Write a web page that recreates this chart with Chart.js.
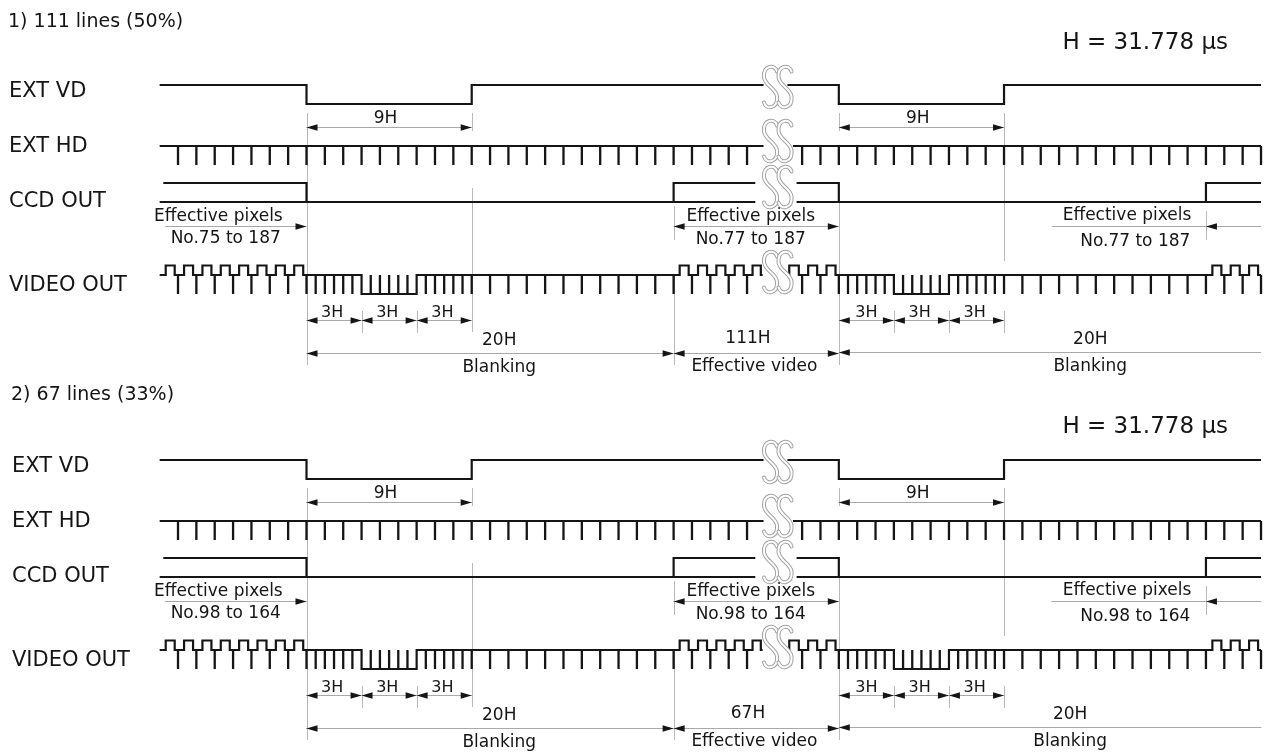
<!DOCTYPE html>
<html><head><meta charset="utf-8">
<script src="https://cdn.jsdelivr.net/npm/chart.js@4.4.1/dist/chart.umd.min.js"></script>
<style>html,body{margin:0;padding:0;background:#fff;overflow:hidden}#wrap{width:1271px;height:755px}canvas{display:block}</style>
</head><body><div id="wrap"><canvas id="c" width="1271" height="755"></canvas></div>
<script>
// ================= DATA (time in H units, logic levels) =================
const sectionTitles = ['1) 111 lines (50%)', '2) 67 lines (33%)'];
const signalNames = ['EXT VD', 'EXT HD', 'CCD OUT', 'VIDEO OUT'];
const lineTimeLabel = 'H = 31.778 \u00B5s';
const effectiveLineCounts = ['111H', '67H'];
const pixelRanges = [
  ['No.75 to 187', 'No.77 to 187', 'No.77 to 187'],
  ['No.98 to 164', 'No.98 to 164', 'No.98 to 164']
];
const vdWidthLabel = '9H';
const eqWidthLabel = '3H';
const blankingLabel = '20H';
const timeSpan = [-8, 52];

// EXT VD: [time, level] (null = line interrupted)
const vdSteps = [[-8, 1], [0, 0], [9, 1], [24.9, null], [26.2, 1], [29, 0], [38, 1], [52, null]];
// EXT HD baseline and sync ticks
const hdSteps = [[-8, 1], [24.9, null], [26.5, 1], [52, null]];
const hdTicks = [-7, -6, -5, -4, -3, -2, -1, 0, 1, 2, 3, 4, 5, 6, 7, 8, 9, 10, 11, 12, 13, 14, 15, 16,
  17, 18, 19, 20, 21, 22, 23, 24, 27, 28, 29, 30, 31, 32, 33, 34, 35, 36, 37, 38, 39, 40, 41, 42, 43,
  44, 45, 46, 47, 48, 49, 50, 51, 52];
// CCD OUT: upper (effective) line and lower line
const ccdHighSteps = [[-7.8, 1], [0, 0], [0, null], [20, 0], [20, 1], [24.45, null], [26.7, 1], [29, 0], [29, null],
  [49, 0], [49, 1], [52, null]];
const ccdLowSteps = [[-8, 0], [24.45, null], [26.7, 0], [52, null]];
// VIDEO OUT: video bumps [start, end], vertical sync [start, end], break, sync / equalising ticks
const videoBumps = [[-7.67, -7.18], [-6.67, -6.18], [-5.67, -5.18], [-4.67, -4.18], [-3.67, -3.18], [-2.67, -2.18],
  [-1.67, -1.18], [-0.67, -0.18], [20.33, 20.82], [21.33, 21.82], [22.33, 22.82], [23.33, 23.82], [24.3, 24.75],
  [26.3, 26.82], [27.33, 27.82], [28.33, 28.82], [49.35, 49.84], [50.35, 50.84], [51.35, 51.84]];
const videoVsync = [[3, 6], [32, 35]];
const videoBreak = [24.85, 26.25];
const videoSyncTicks = [-7, -6, -5, -4, -3, -2, -1, 0,
  0.5, 1, 1.5, 2, 2.5, 3.5, 4, 4.5, 5, 5.5, 6.5, 7, 7.5, 8, 8.5, 9,
  10, 11, 12, 13, 14, 15, 16, 17, 18, 19, 20, 21, 22, 23, 24, 27, 28, 29,
  29.5, 30, 30.5, 31, 31.5, 32.5, 33, 33.5, 34, 34.5, 35.5, 36, 36.5, 37, 37.5, 38,
  39, 40, 41, 42, 43, 44, 45, 46, 47, 48, 49, 50, 51, 52];

// ================= LAYOUT =================
const LAY = {
  originPx: 306.5, hPx: 18.356, W: 1271, H: 755,
  secOff: [0, 375],
  rows: { vd: { base: 104, amp: 19 }, hd: { base: 165, amp: 19 }, ccd: { base: 202, amp: 19 }, video: { base: 275, amp: 9.5 } },
  font: '"DejaVu Sans", sans-serif',
  ink: '#151515', dimGray: '#a9a9a9', extGray: '#b8b8b8'
};
const xMin = -LAY.originPx / LAY.hPx;
const xMax = (LAY.W - LAY.originPx) / LAY.hPx;
function yOf(sec, row, lv) { const r = LAY.rows[row]; return r.base + LAY.secOff[sec] - lv * r.amp; }

function buildSteps(steps, row, sec) {
  const pts = []; let prev = null;
  for (const [t, lv] of steps) {
    if (prev !== null) pts.push({ x: t, y: yOf(sec, row, prev) });
    pts.push({ x: t, y: lv === null ? null : yOf(sec, row, lv) });
    prev = lv;
  }
  return pts;
}
function buildTicks(ticks, row, sec, a, b) {
  const pts = [];
  ticks.forEach(t => { pts.push({ x: t, y: yOf(sec, row, a) }, { x: t, y: yOf(sec, row, b) }, { x: t, y: null }); });
  return pts;
}
function videoStepList() {
  const ev = [[timeSpan[0], 0]];
  videoBumps.forEach(([a, b]) => ev.push([a, 1], [b, 0]));
  videoVsync.forEach(([a, b]) => ev.push([a, -2], [b, 0]));
  ev.push([videoBreak[0], null], [videoBreak[1], 0], [timeSpan[1], null]);
  return ev.map((e, i) => [e, i]).sort((p, q) => p[0][0] - q[0][0] || p[1] - q[1]).map(p => p[0]);
}

const datasets = [];
[0, 1].forEach(s => {
  const base = { borderColor: LAY.ink, borderWidth: 2.2, pointRadius: 0, fill: false, tension: 0, spanGaps: false };
  datasets.push({ ...base, label: signalNames[0], data: buildSteps(vdSteps, 'vd', s) });
  datasets.push({ ...base, label: signalNames[1], data: buildSteps(hdSteps, 'hd', s) });
  datasets.push({ ...base, label: signalNames[1] + ' sync', borderWidth: 2.3, data: buildTicks(hdTicks, 'hd', s, 1, 0) });
  datasets.push({ ...base, label: signalNames[2], data: buildSteps(ccdHighSteps, 'ccd', s) });
  datasets.push({ ...base, label: signalNames[2] + ' low', data: buildSteps(ccdLowSteps, 'ccd', s) });
  datasets.push({ ...base, label: signalNames[3], data: buildSteps(videoStepList(), 'video', s) });
  datasets.push({ ...base, label: signalNames[3] + ' sync', borderWidth: 2.3, data: buildTicks(videoSyncTicks, 'video', s, 0, -2) });
});

// ---------- annotation layout (x in H units, y in section-1 pixels) ----------
const extLines = [
  { x: 0, y: [[113, 365]] }, { x: 9, y: [[113, 131], [188, 332]] },
  { x: 3, y: [[311, 333]] }, { x: 6, y: [[311, 333]] },
  { x: 20, y: [[206, 240], [276, 365]] }, { x: 29, y: [[113, 131], [202, 365]] },
  { x: 32, y: [[311, 333]] }, { x: 35, y: [[311, 333]] },
  { x: 38, y: [[113, 261], [311, 333]] }, { x: 49, y: [[211, 240]] }
];
const dims = [
  { y: 127, a: 0, b: 9, heads: [[0, -1], [9, 1]] },
  { y: 127, a: 29, b: 38, heads: [[29, -1], [38, 1]] },
  { y: 226, a: -7.7, b: 0, heads: [[0, 1]] },
  { y: 226, a: 20, b: 29, heads: [[20, -1], [29, 1]] },
  { y: 226, a: 40.6, b: 52, heads: [[49, -1]] },
  { y: 320, a: 0, b: 3, heads: [[0, -1], [3, 1]] },
  { y: 320, a: 3, b: 6, heads: [[3, -1], [6, 1]] },
  { y: 320, a: 6, b: 9, heads: [[6, -1], [9, 1]] },
  { y: 320, a: 29, b: 32, heads: [[29, -1], [32, 1]] },
  { y: 320, a: 32, b: 35, heads: [[32, -1], [35, 1]] },
  { y: 320, a: 35, b: 38, heads: [[35, -1], [38, 1]] },
  { y: 353, a: 0, b: 20, heads: [[0, -1], [20, 1]] },
  { y: 353, a: 20, b: 29, heads: [[20, -1], [29, 1]] },
  { y: 352, a: 29, b: 52, heads: [[29, -1]] }
];
function sectionTexts(s) {
  const pr = pixelRanges[s];
  return [
    { t: vdWidthLabel, x: 4.3, y: 119, size: 17 }, { t: vdWidthLabel, x: 33.3, y: 119, size: 17 },
    { t: 'Effective pixels', x: -4.8, y: 217, size: 17 }, { t: pr[0], x: -4.4, y: 239, size: 17 },
    { t: 'Effective pixels', x: 24.2, y: 217, size: 17 }, { t: pr[1], x: 24.2, y: 240, size: 17 },
    { t: 'Effective pixels', x: 44.7, y: 216, size: 17 }, { t: pr[2], x: 45.15, y: 242, size: 17 },
    { t: eqWidthLabel, x: 1.4, y: 313, size: 16 }, { t: eqWidthLabel, x: 4.4, y: 313, size: 16 },
    { t: eqWidthLabel, x: 7.4, y: 313, size: 16 }, { t: eqWidthLabel, x: 30.5, y: 313, size: 16 },
    { t: eqWidthLabel, x: 33.4, y: 313, size: 16 }, { t: eqWidthLabel, x: 36.4, y: 313, size: 16 },
    { t: blankingLabel, x: 10.5, y: 341, size: 17 }, { t: 'Blanking', x: 10.5, y: 368, size: 17 },
    { t: effectiveLineCounts[s], x: 24.05, y: 339, size: 17 }, { t: 'Effective video', x: 24.4, y: 367, size: 17 },
    { t: blankingLabel, x: s === 0 ? 42.7 : 41.6, y: 340, size: 17 },
    { t: 'Blanking', x: s === 0 ? 42.7 : 41.6, y: 367, size: 17 }
  ];
}
const titleY = [22, 395], titleX = [8, 11];
const lineTimeY = [43, 427];
const labelY = [92, 147, 202, 286];
const breakMarks = { xs: [25.28, 26.07], ys: [87, 141, 187, 272], h: 43, w: 13 };

function drawS(ctx, cx, cy, w, h) {
  const hw = w / 2, hh = h / 2;
  ctx.beginPath();
  ctx.moveTo(cx + hw, cy - hh * 0.72);
  ctx.bezierCurveTo(cx + hw * 0.7, cy - hh * 1.08, cx - hw * 1.15, cy - hh * 1.02, cx - hw, cy - hh * 0.45);
  ctx.bezierCurveTo(cx - hw * 0.85, cy - hh * 0.05, cx + hw * 0.85, cy + hh * 0.05, cx + hw, cy + hh * 0.45);
  ctx.bezierCurveTo(cx + hw * 1.15, cy + hh * 1.02, cx - hw * 0.7, cy + hh * 1.08, cx - hw, cy + hh * 0.72);
  ctx.stroke();
}

const annot = {
  id: 'annot',
  beforeDatasetsDraw(chart) {
    const ctx = chart.ctx, X = v => chart.scales.x.getPixelForValue(v), Y = v => chart.scales.y.getPixelForValue(v);
    ctx.save();
    ctx.strokeStyle = LAY.extGray; ctx.lineWidth = 1;
    [0, 1].forEach(s => {
      extLines.forEach(e => {
        const px = Math.round(X(e.x)) + 0.5;
        e.y.forEach(([a, b]) => { ctx.beginPath(); ctx.moveTo(px, Y(a + LAY.secOff[s])); ctx.lineTo(px, Y(b + LAY.secOff[s])); ctx.stroke(); });
      });
    });
    ctx.restore();
  },
  afterDatasetsDraw(chart) {
    const ctx = chart.ctx, X = v => chart.scales.x.getPixelForValue(v), Y = v => chart.scales.y.getPixelForValue(v);
    ctx.save();
    [0, 1].forEach(s => {
      const off = LAY.secOff[s];
      // dimension arrows
      dims.forEach(d => {
        const y = Math.round(Y(d.y + off)) + 0.5;
        ctx.strokeStyle = LAY.dimGray; ctx.lineWidth = 1;
        ctx.beginPath(); ctx.moveTo(X(d.a), y); ctx.lineTo(X(d.b), y); ctx.stroke();
        ctx.fillStyle = LAY.ink;
        d.heads.forEach(([hx, dir]) => {
          const tip = X(hx);
          ctx.beginPath(); ctx.moveTo(tip, y); ctx.lineTo(tip - dir * 11, y - 3.2); ctx.lineTo(tip - dir * 11, y + 3.2); ctx.closePath(); ctx.fill();
        });
      });
      // texts
      ctx.fillStyle = LAY.ink; ctx.textBaseline = 'middle'; ctx.textAlign = 'center';
      sectionTexts(s).forEach(t => {
        ctx.font = t.size + 'px ' + LAY.font;
        ctx.fillText(t.t, X(t.x), Y(t.y + off));
      });
      ctx.textAlign = 'left';
      ctx.font = '19px ' + LAY.font;
      ctx.fillText(sectionTitles[s], titleX[s], Y(titleY[s]));
      ctx.font = '21px ' + LAY.font;
      signalNames.forEach((n, i) => ctx.fillText(n, titleX[s] + 1, Y(labelY[i] + off)));
      ctx.textAlign = 'right';
      ctx.font = '23px ' + LAY.font;
      ctx.fillText(lineTimeLabel, 1228, Y(lineTimeY[s]));
      // break marks
      breakMarks.ys.forEach(by => {
        breakMarks.xs.forEach(bx => {
          ctx.lineCap = 'round';
          ctx.strokeStyle = '#a2a2a2'; ctx.lineWidth = 4; drawS(ctx, X(bx), Y(by + off), breakMarks.w, breakMarks.h);
          ctx.strokeStyle = '#ffffff'; ctx.lineWidth = 2; drawS(ctx, X(bx), Y(by + off), breakMarks.w, breakMarks.h);
        });
      });
    });
    ctx.restore();
  }
};

new Chart(document.getElementById('c').getContext('2d'), {
  type: 'line',
  data: { datasets },
  options: {
    responsive: false, animation: false, events: [],
    layout: { padding: 0 },
    plugins: { legend: { display: false }, tooltip: { enabled: false }, title: { display: false } },
    scales: {
      x: { type: 'linear', min: xMin, max: xMax, display: false },
      y: { type: 'linear', min: 0, max: LAY.H, reverse: true, display: false }
    },
    elements: { point: { radius: 0 }, line: { tension: 0, borderJoinStyle: 'miter', borderCapStyle: 'butt' } }
  },
  plugins: [annot]
});
</script>
</body></html>
